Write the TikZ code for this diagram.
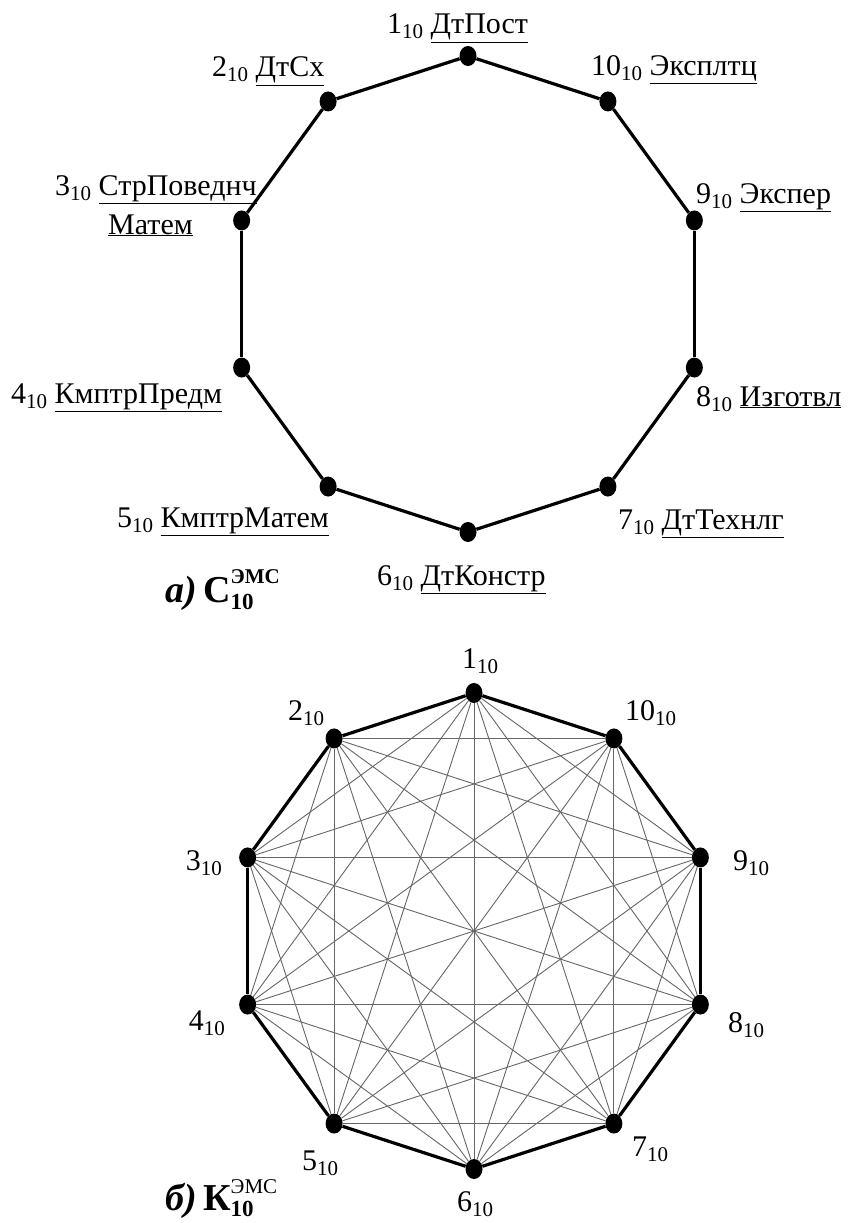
\documentclass[tikz,border=0pt]{standalone}
\usepackage{fontspec}
\setmainfont{Liberation Serif}
\usetikzlibrary{shapes.geometric}
\newcommand\lsub[1]{\raisebox{-5pt}{\fontsize{21}{21}\selectfont #1}}
\newcommand\ulab[1]{\underline{#1}}
\newcommand\ttl[2]{{\bfseries\itshape #1}\,{\bfseries #2}\rlap{\raisebox{19pt}{\fontsize{21}{21}\selectfont\bfseries ЭМС}}\raisebox{-7pt}{\fontsize{23}{23}\selectfont\bfseries 10}}
\tikzset{
  vtx/.style={ellipse, fill=black, draw=none, minimum width=17pt, minimum height=20pt, inner sep=0pt},
  ring/.style={line width=3.2pt, black},
  chord/.style={line width=0.9pt, black!60},
  lbl/.style={font=\fontsize{30}{34}\selectfont, inner sep=0pt, anchor=base west},
  lble/.style={lbl, anchor=base east},
  ttlstyle/.style={font=\fontsize{38}{40}\selectfont, inner sep=0pt, anchor=base west}
}
\begin{document}
\begin{tikzpicture}[x=1pt,y=-1pt]
\useasboundingbox (0,0) rectangle (850,1223);
% ---- a) cycle C10
\foreach \k in {1,...,10}{
  \pgfmathsetmacro\ang{-90-36*(\k-1)}
  \node[vtx] (a\k) at ([shift={(468,294)}]\ang:238) {};
}
\draw[ring] (a1) -- (a2);
\draw[ring] (a2) -- (a3);
\draw[ring] (a3) -- (a4);
\draw[ring] (a4) -- (a5);
\draw[ring] (a5) -- (a6);
\draw[ring] (a6) -- (a7);
\draw[ring] (a7) -- (a8);
\draw[ring] (a8) -- (a9);
\draw[ring] (a9) -- (a10);
\draw[ring] (a10) -- (a1);
\node[lbl]  (la1)  at (387,34)  {1\lsub{10} \ulab{ДтПост}};
\node[lbl]  (la2)  at (212,77)  {2\lsub{10} \ulab{ДтСх}};
\node[lble] (la3)  at (257,195) {3\lsub{10} \ulab{СтрПоведнч}};
\node[lbl]  (la3b) at (108,234) {\ulab{Матем}};
\node[lbl]  (la4)  at (11,403)  {4\lsub{10} \ulab{КмптрПредм}};
\node[lbl]  (la5)  at (117,527) {5\lsub{10} \ulab{КмптрМатем}};
\node[lbl]  (la6)  at (377,585) {6\lsub{10} \ulab{ДтКонстр}};
\node[lbl]  (la7)  at (618,529) {7\lsub{10} \ulab{ДтТехнлг}};
\node[lbl]  (la8)  at (696,406) {8\lsub{10} \ulab{Изготвл}};
\node[lbl]  (la9)  at (696,203) {9\lsub{10} \ulab{Экспер}};
\node[lbl]  (la10) at (591,76)  {10\lsub{10} \ulab{Эксплтц}};
\node[ttlstyle] (ta) at (165,602) {\ttl{а)}{С}};
% ---- b) complete graph K10
\foreach \k in {1,...,10}{
  \pgfmathsetmacro\ang{-90-36*(\k-1)}
  \node[vtx] (b\k) at ([shift={(474,931)}]\ang:238) {};
}
\foreach \i in {1,...,9}{
  \pgfmathtruncatemacro\s{\i+1}
  \foreach \j in {\s,...,10}{
    \pgfmathtruncatemacro\d{\j-\i}
    \ifnum\d=1\relax\else\ifnum\d=9\relax\else
      \draw[chord] (b\i) -- (b\j);
    \fi\fi
  }
}
\draw[ring] (b1) -- (b2);
\draw[ring] (b2) -- (b3);
\draw[ring] (b3) -- (b4);
\draw[ring] (b4) -- (b5);
\draw[ring] (b5) -- (b6);
\draw[ring] (b6) -- (b7);
\draw[ring] (b7) -- (b8);
\draw[ring] (b8) -- (b9);
\draw[ring] (b9) -- (b10);
\draw[ring] (b10) -- (b1);
\node[lbl]  (lb1)  at (462,668)  {1\lsub{10}};
\node[lbl]  (lb2)  at (288,720)  {2\lsub{10}};
\node[lble] (lb3)  at (222,870)  {3\lsub{10}};
\node[lble] (lb4)  at (225,1030) {4\lsub{10}};
\node[lbl]  (lb5)  at (302,1170) {5\lsub{10}};
\node[lbl]  (lb6)  at (457,1211) {6\lsub{10}};
\node[lbl]  (lb7)  at (632,1156) {7\lsub{10}};
\node[lbl]  (lb8)  at (728,1032) {8\lsub{10}};
\node[lbl]  (lb9)  at (733,870)  {9\lsub{10}};
\node[lbl]  (lb10) at (625,720)  {10\lsub{10}};
\node[ttlstyle] (tb) at (165,1210) {{\bfseries\itshape б)}\,{\bfseries К}\rlap{\raisebox{17pt}{\fontsize{21}{21}\selectfont ЭМС}}\raisebox{-6pt}{\fontsize{23}{23}\selectfont\bfseries 10}};
\end{tikzpicture}
\end{document}
